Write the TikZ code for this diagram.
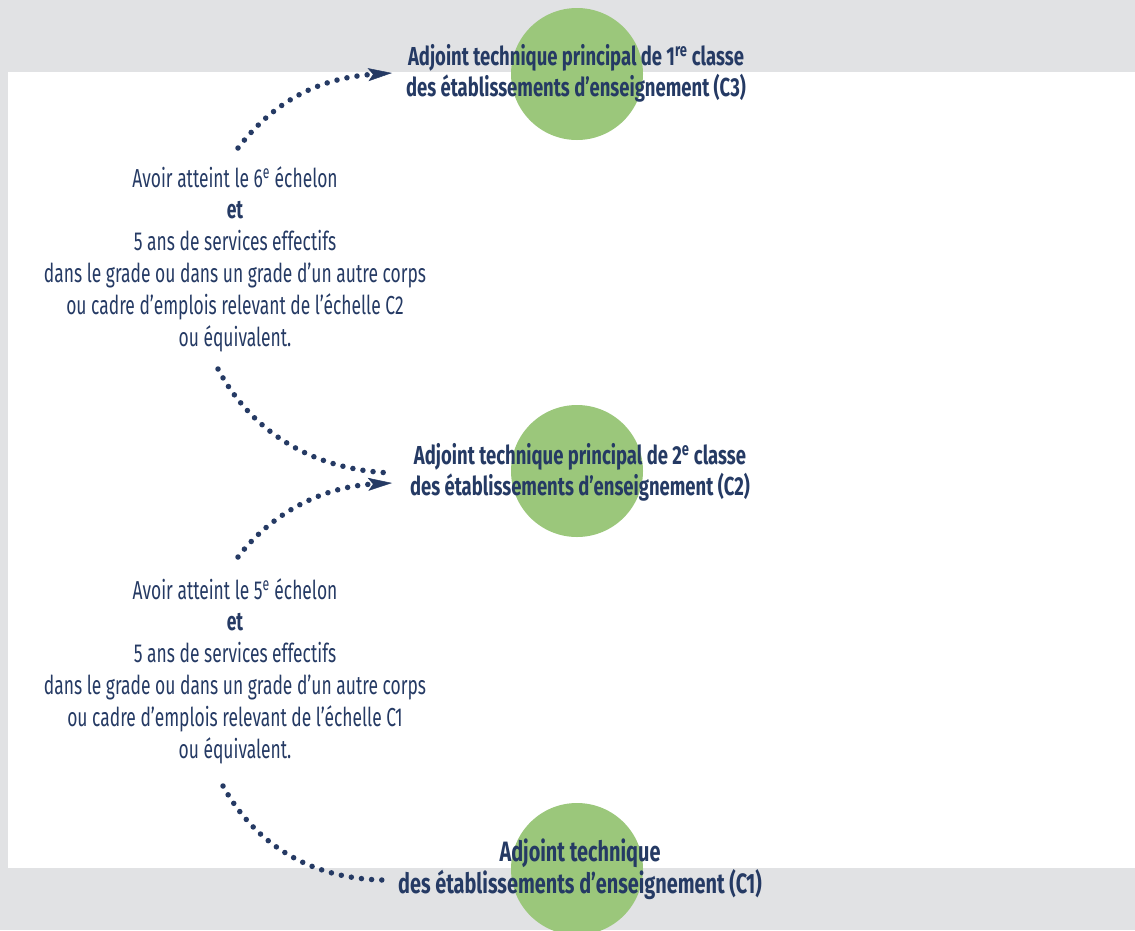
\documentclass[tikz,border=0pt]{standalone}
\usepackage{fontspec}
\setmainfont{Fira Sans}[FakeStretch=0.67]
\newfontfamily\titlefont{Fira Sans}[FakeStretch=0.71]
\usetikzlibrary{arrows.meta}
\definecolor{bggrey}{HTML}{E1E2E4}
\definecolor{navy}{HTML}{253A64}
\definecolor{leaf}{HTML}{9BC77B}
\tikzset{
  grade/.style={circle, fill=leaf, minimum size=132pt, inner sep=0pt},
  title/.style={text=navy, align=center, font=\titlefont\fontsize{26}{31.5}\selectfont\bfseries, inner sep=0pt},
  bigtitle/.style={title, font=\titlefont\fontsize{28}{32}\selectfont\bfseries},
  cond/.style={text=navy, align=center, font=\fontsize{26}{31.8}\selectfont, inner sep=0pt},
  dotline/.style={draw=navy, line width=5.5pt, line cap=round, dash pattern=on 0pt off 10.2pt},
  headed/.style={dotline, -{Stealth[length=24pt, width=13pt, inset=5pt, line width=0.5pt]}}
}
\begin{document}
\begin{tikzpicture}[x=1pt, y=-1pt]
  \useasboundingbox (0,0) rectangle (1135,930);
  \fill[bggrey] (0,0) rectangle (1135,930);
  \fill[white] (8,72) rectangle (1135,868);
  % circles
  \node[grade] (g3) at (577,74) {};
  \node[grade] (g2) at (577,471) {};
  \node[grade] (g1) at (577,869) {};
  % titles
  \node[title] (t3) at (576,73.5) {Adjoint technique principal de 1\textsuperscript{re} classe\\des établissements d’enseignement (C3)};
  \node[title] (t2) at (580,472.5) {Adjoint technique principal de 2\textsuperscript{e} classe\\des établissements d’enseignement (C2)};
  \node[bigtitle] (t1) at (580,869) {Adjoint technique\\des établissements d’enseignement (C1)};
  % conditions
  \node[cond] (k2) at (235,259) {Avoir atteint le 6\textsuperscript{e} échelon\\\textbf{et}\\5 ans de services effectifs\\dans le grade ou dans un grade d’un autre corps\\ou cadre d’emplois relevant de l’échelle C2\\ou équivalent.};
  \node[cond] (k1) at (235,671) {Avoir atteint le 5\textsuperscript{e} échelon\\\textbf{et}\\5 ans de services effectifs\\dans le grade ou dans un grade d’un autre corps\\ou cadre d’emplois relevant de l’échelle C1\\ou équivalent.};
  % connector end points
  \coordinate (a1s) at (238,148);
  \coordinate (a1e) at (392,73);
  \coordinate (a2s) at (218,369);
  \coordinate (a2e) at (393,473);
  \coordinate (a3s) at (238,557);
  \coordinate (a3e) at (392,483);
  \coordinate (a4s) at (223,786);
  \coordinate (a4e) at (382,880);
  % connectors
  \draw[headed] (a1s) .. controls (275,100) and (320,78) .. (a1e);
  \draw[dotline] (a2s) .. controls (245,420) and (300,470) .. (a2e);
  \draw[headed] (a3s) .. controls (270,515) and (320,487) .. (a3e);
  \draw[dotline] (a4s) .. controls (250,835) and (300,878) .. (a4e);
\end{tikzpicture}
\end{document}
